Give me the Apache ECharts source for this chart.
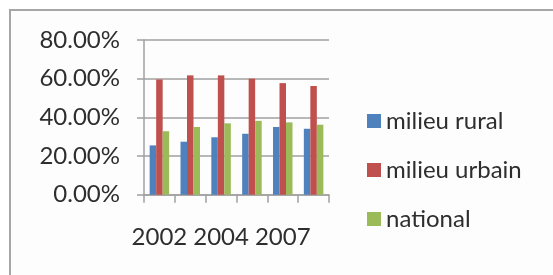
<!DOCTYPE html>
<html>
<head>
<meta charset="utf-8">
<script src="https://cdn.jsdelivr.net/npm/echarts@6/dist/echarts.min.js"></script>
<style>
html,body{margin:0;padding:0;background:#ffffff;}
#chart{width:553px;height:275px;}
</style>
</head>
<body>
<div id="chart"></div>
<script>
const categories = ['2002', '2003', '2004', '2005', '2007', '2008'];
const ruralValues = [25.5, 27.4, 29.7, 31.5, 35.0, 34.1];
const urbanValues = [59.6, 61.7, 61.7, 60.0, 57.7, 56.2];
const nationalValues = [32.8, 35.0, 36.9, 38.2, 37.4, 36.2];
const seriesNames = ['milieu rural', 'milieu urbain', 'national'];
const yTicks = [0, 20, 40, 60, 80];

const FONT = 'Lato';
const TXT = '#2e2e2e';
const chart = echarts.init(document.getElementById('chart'), null, {renderer: 'canvas'});
chart.setOption({
  animation: false,
  backgroundColor: '#ffffff',
  graphic: [{
    type: 'rect', z: -10,
    shape: {x: 10, y: 10, width: 600, height: 300},
    style: {fill: '#fdfdfd', stroke: '#a6a6a6', lineWidth: 2}
  }],
  grid: {left: 144, right: 224, top: 40, bottom: 80.3, containLabel: false},
  legend: {
    orient: 'vertical', left: 362, top: 104,
    icon: 'rect', itemWidth: 14, itemHeight: 14, itemGap: 25,
    textStyle: {fontFamily: FONT, fontSize: 24, color: TXT, lineHeight: 24},
    data: seriesNames
  },
  xAxis: {
    type: 'category', data: categories,
    axisLine: {lineStyle: {color: '#a0a0a0', width: 1.5}},
    axisTick: {show: true, interval: 0, length: 8, lineStyle: {color: '#a0a0a0', width: 1.5}},
    axisLabel: {interval: 1, margin: 31, fontFamily: FONT, fontSize: 24, color: TXT},
    splitLine: {show: false}
  },
  yAxis: {
    type: 'value', min: yTicks[0], max: yTicks[yTicks.length - 1], interval: 20,
    axisLine: {show: true, lineStyle: {color: '#a0a0a0', width: 1.5}},
    axisTick: {show: true, length: 7, inside: false, lineStyle: {color: '#a0a0a0', width: 1.5}},
    axisLabel: {margin: 24, fontFamily: FONT, fontSize: 24, color: TXT,
      formatter: v => v.toFixed(2) + '%'},
    splitLine: {lineStyle: {color: '#a0a0a0', width: 1.5}}
  },
  series: [
    {name: seriesNames[0], type: 'bar', data: ruralValues, barWidth: 6.5, barGap: '0%', itemStyle: {color: '#4F81BD'}},
    {name: seriesNames[1], type: 'bar', data: urbanValues, barWidth: 6.5, barGap: '0%', itemStyle: {color: '#C0504D'}},
    {name: seriesNames[2], type: 'bar', data: nationalValues, barWidth: 6.5, barGap: '0%', itemStyle: {color: '#9BBB59'}}
  ]
});
</script>
</body>
</html>
